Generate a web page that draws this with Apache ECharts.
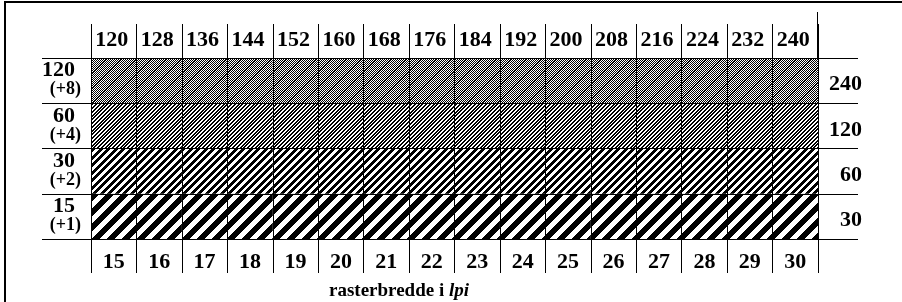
<!DOCTYPE html>
<html>
<head>
<meta charset="utf-8">
<script src="https://cdn.jsdelivr.net/npm/echarts@6/dist/echarts.min.js"></script>
<style>
html, body { margin: 0; padding: 0; background: #fff; }
#chart { width: 902px; height: 302px; }
</style>
</head>
<body>
<div id="chart"></div>
<script>
// rasterbredde (bottom) and lpi value (top) per column
var widths = ['15', '16', '17', '18', '19', '20', '21', '22', '23', '24', '25', '26', '27', '28', '29', '30'];
var lpiTop = ['120', '128', '136', '144', '152', '160', '168', '176', '184', '192', '200', '208', '216', '224', '232', '240'];
// rows from bottom to top
var rowLabels = ['15', '30', '60', '120'];
var rowSteps = ['+1', '+2', '+4', '+8'];
var rightLabels = ['30', '60', '120', '240'];
// every cell is one unit of the table
var cells = [1, 1, 1, 1, 1, 1, 1, 1, 1, 1, 1, 1, 1, 1, 1, 1];

var font = 'Liberation Serif';

// diagonal "/" hatch with n black stripes per 15px tile
function hatch(n){
    var size = 15
    var p = size / n
    var c = document.createElement('canvas')
    c.width = size
    c.height = size
    var ctx = c.getContext('2d')
    ctx.fillStyle = '#fff'
    ctx.fillRect(0, 0, size, size)
    ctx.fillStyle = '#000'
    for(var x = 0; x < size; x++){
        for(var y = 0; y < size; y++){
            var k = (x + y) % size
            if((k % p) < p / 2 - 0.01) ctx.fillRect(x, y, 1, 1)
        }
    }
    return { image: c, repeat: 'repeat' }
}

var patterns = [hatch(1), hatch(2), hatch(4), hatch(8)]

var lineStyle = { color: '#000', width: 1 }

var series = rowLabels.map(function(r, i){
    return {
        name: r,
        type: 'bar',
        stack: 'rows',
        xAxisIndex: 0,
        yAxisIndex: 0,
        barWidth: '100%',
        barCategoryGap: '0%',
        itemStyle: { color: patterns[i] },
        silent: true,
        data: cells
    }
})

var myChart = echarts.init(document.getElementById('chart'))
var option = {
    animation: false,
    backgroundColor: '#fff',
    title: {
        text: '{a|rasterbredde i }{b|lpi}',
        left: 329,
        top: 282,
        padding: 0,
        textStyle: {
            rich: {
                a: { fontFamily: font, fontWeight: 'bold', fontSize: 19, color: '#000' },
                b: { fontFamily: font, fontWeight: 'bold', fontStyle: 'italic', fontSize: 19, color: '#000' }
            }
        }
    },
    grid: {
        left: 91,
        right: 84,
        top: 58,
        bottom: 63,
        containLabel: false
    },
    xAxis: [
        {
            type: 'category',
            position: 'bottom',
            data: widths,
            z: 10,
            axisLine: { show: true, lineStyle: lineStyle },
            axisTick: { show: true, length: 34, lineStyle: lineStyle },
            splitLine: { show: true, lineStyle: lineStyle },
            axisLabel: {
                margin: 12,
                fontFamily: font,
                fontWeight: 'bold',
                fontSize: 22,
                color: '#000'
            }
        },
        {
            type: 'category',
            position: 'top',
            data: lpiTop,
            z: 10,
            axisLine: { show: true, lineStyle: lineStyle },
            axisTick: { show: true, length: 34, lineStyle: lineStyle },
            splitLine: { show: false },
            axisLabel: {
                margin: 7,
                fontFamily: font,
                fontWeight: 'bold',
                fontSize: 22,
                color: '#000',
                padding: [0, 4, 0, 0]
            }
        }
    ],
    yAxis: [
        {
            type: 'value',
            min: 0,
            max: 4,
            interval: 1,
            show: false
        },
        {
            type: 'category',
            position: 'left',
            data: rowLabels,
            z: 10,
            axisLine: { show: true, lineStyle: lineStyle },
            axisTick: { show: true, length: 49, lineStyle: lineStyle },
            splitLine: { show: true, lineStyle: lineStyle },
            axisLabel: {
                margin: 10,
                align: 'right',
                formatter: function(value, index){
                    return '{a|' + value + '}\n{b|(' + rowSteps[index] + ')}'
                },
                rich: {
                    a: { fontFamily: font, fontWeight: 'bold', fontSize: 22, color: '#000', lineHeight: 18, padding: [0, 6, 0, 0] },
                    b: { fontFamily: font, fontWeight: 'bold', fontSize: 18, color: '#000', lineHeight: 20 }
                }
            }
        },
        {
            type: 'category',
            position: 'right',
            data: rightLabels,
            z: 10,
            axisLine: { show: true, lineStyle: lineStyle },
            axisTick: { show: true, length: 40, lineStyle: lineStyle },
            splitLine: { show: false },
            axisLabel: {
                margin: 44,
                align: 'right',
                verticalAlign: 'top',
                lineHeight: 8,
                fontFamily: font,
                fontWeight: 'bold',
                fontSize: 22,
                color: '#000'
            }
        }
    ],
    graphic: [
        { type: 'line', shape: { x1: 4, y1: 2, x2: 902, y2: 2 }, style: { stroke: '#000', lineWidth: 2 } },
        { type: 'line', shape: { x1: 5, y1: 1, x2: 5, y2: 302 }, style: { stroke: '#000', lineWidth: 2 } },
        { type: 'line', shape: { x1: 817.5, y1: 12, x2: 817.5, y2: 60 }, style: { stroke: '#000', lineWidth: 1 } }
    ],
    series: series
}
myChart.setOption(option)
</script>
</body>
</html>
